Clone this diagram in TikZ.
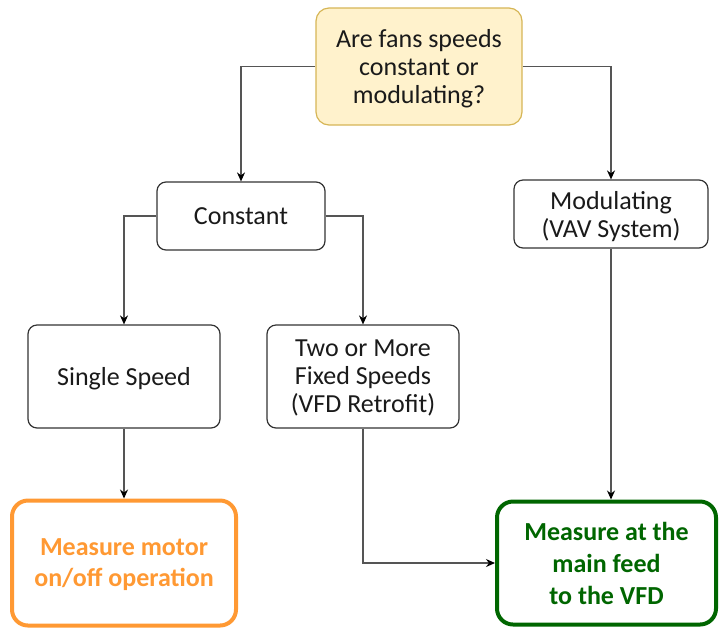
\documentclass[tikz,border=0pt]{standalone}
\usepackage{fontspec}
\setmainfont{Carlito}
\usetikzlibrary{arrows.meta,positioning}
\definecolor{qfill}{HTML}{FFF2CC}
\definecolor{qdraw}{HTML}{D6B656}
\definecolor{orangeb}{HTML}{FF9933}
\definecolor{greenb}{HTML}{006600}
\definecolor{linec}{HTML}{555555}
\definecolor{txt}{HTML}{1A1A1A}
\tikzset{
  box/.style={draw=black!80, line width=1.2pt, rounded corners=9pt, fill=white, align=center,
    text=txt, font=\fontsize{26}{28}\selectfont, inner sep=0pt, text depth=0pt},
  qbox/.style={box, draw=qdraw, fill=qfill, rounded corners=13pt},
  obox/.style={box, draw=orangeb, line width=4pt, text=orangeb, rounded corners=16pt, font=\fontsize{26}{31}\selectfont\bfseries},
  gbox/.style={box, draw=greenb, line width=4pt, text=greenb, rounded corners=16pt, font=\fontsize{26}{32}\selectfont\bfseries},
  conn/.style={draw=linec, line width=1.3pt, -{Stealth[length=9pt,width=8pt,color=black]}}
}
\begin{document}
\begin{tikzpicture}[x=1pt,y=-1pt]
\useasboundingbox (0,0) rectangle (719,630);
\node[qbox, minimum width=206pt, minimum height=117pt] (q) at (419,66.5) {Are fans speeds\\constant or\\modulating?};
\node[box, minimum width=168pt, minimum height=68pt] (c) at (241,216) {Constant};
\node[box, minimum width=194pt, minimum height=68pt] (m) at (611,214) {Modulating\\(VAV System)};
\node[box, minimum width=192pt, minimum height=103pt] (s) at (124,376.5) {Single Speed};
\node[box, minimum width=192pt, minimum height=103pt] (t) at (363,376.5) {Two or More\\Fixed Speeds\\(VFD Retrofit)};
\node[obox, minimum width=224pt, minimum height=125pt, text depth=-4pt] (o) at (124,563) {Measure motor\\on/off operation};
\node[gbox, minimum width=219pt, minimum height=123pt] (g) at (606.5,563) {Measure at the\\main feed\\to the VFD};
\draw[conn] (q.west) -| (c.north);
\draw[conn] (q.east) -| (m.north);
\draw[conn] (c.west) -| (s.north);
\draw[conn] (c.east) -| (t.north);
\draw[conn] (s.south) -- (o.north);
\draw[conn] (t.south) |- (g.west);
\draw[conn] (m.south) -- (m.south |- g.north);
\end{tikzpicture}
\end{document}
